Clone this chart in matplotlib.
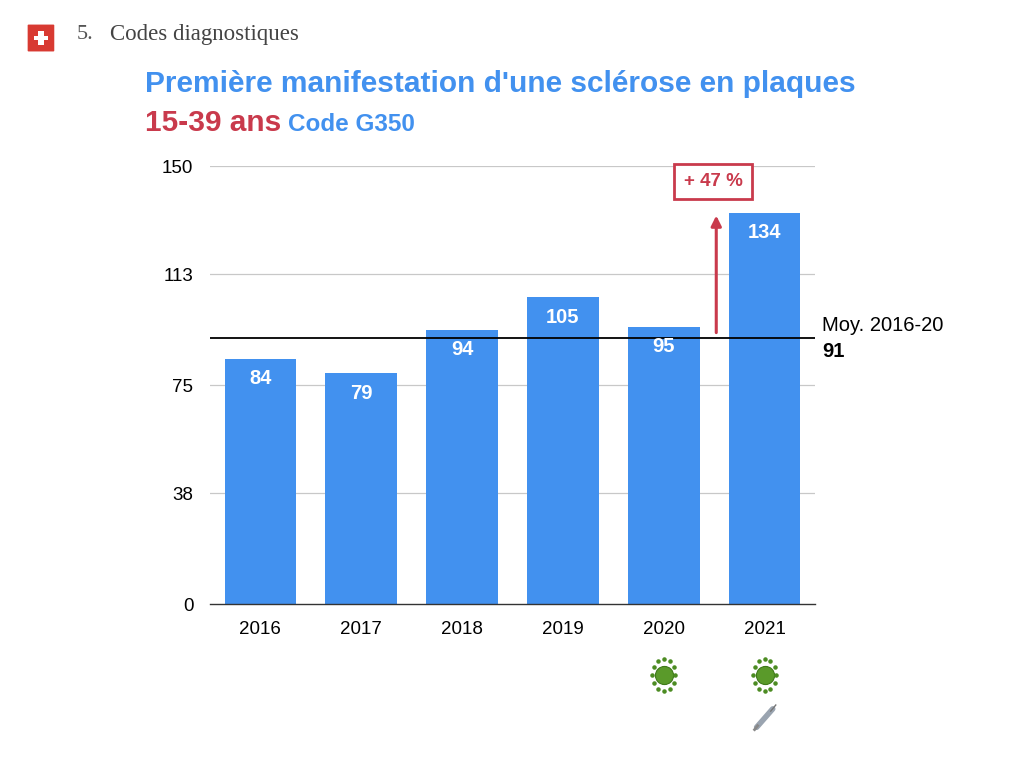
import matplotlib.pyplot as plt
import matplotlib.transforms as mtransforms
from matplotlib.patches import Rectangle, FancyBboxPatch
import numpy as np

years = ['2016', '2017', '2018', '2019', '2020', '2021']
cases = [84, 79, 94, 105, 95, 134]
mean_value = 91
ticks = [0, 38, 75, 113, 150]
increase_label = '+ 47 %'
virus_years = ['2020', '2021']
vaccine_years = ['2021']

BLUE = '#4291ef'
RED = '#c93a4c'

plt.rcParams['font.family'] = ['Liberation Sans', 'DejaVu Sans']

fig = plt.figure(figsize=(10.24, 7.68), dpi=100)
ax = fig.add_axes([0.205, 0.2135, 0.591, 0.5703])

x = np.arange(len(years))
ax.bar(x, cases, width=0.71, color=BLUE, zorder=2)
for xi, v in zip(x, cases):
    ax.text(xi, v - 3.5, str(v), color='white', fontsize=14.5, fontweight='bold',
            ha='center', va='top', zorder=4)

ax.set_xlim(-0.5, len(years) - 0.5)
ax.set_ylim(0, 150)
ax.set_yticks(ticks)
ax.set_yticklabels([str(t) for t in ticks], fontsize=13.5)
ax.set_xticks(x)
ax.set_xticklabels(years, fontsize=13.5)
ax.tick_params(length=0)
ax.tick_params(axis='x', pad=12)
ax.tick_params(axis='y', pad=12)
for t in ticks[1:]:
    ax.axhline(t, color='#c8c8c8', lw=0.9, zorder=1)
for s in ['top', 'right', 'left']:
    ax.spines[s].set_visible(False)
ax.spines['bottom'].set_color('#333333')
ax.spines['bottom'].set_linewidth(1.0)

# average line
ax.axhline(mean_value, color='black', lw=1.3, zorder=3)
ax.text(1.012, mean_value + 1.2, 'Moy. 2016-20', transform=ax.get_yaxis_transform(),
        fontsize=14.5, va='bottom', ha='left', clip_on=False)
ax.text(1.012, mean_value - 1.2, str(mean_value), transform=ax.get_yaxis_transform(),
        fontsize=14.5, fontweight='bold', va='top', ha='left', clip_on=False)

# increase arrow
ax.annotate('', xy=(4.52, cases[-1]), xytext=(4.52, mean_value + 1),
            arrowprops=dict(arrowstyle='-|>', color=RED, lw=2.2, mutation_scale=15),
            zorder=5)
ax.text(4.49, 144.7, increase_label, color=RED, fontsize=13.5, fontweight='bold',
        ha='center', va='center', zorder=5,
        bbox=dict(boxstyle='square,pad=0.5', fc='white', ec=RED, lw=2))

# titles
fig.text(0.1415, 0.891, "Première manifestation d'une sclérose en plaques",
         color=BLUE, fontsize=21.5, fontweight='bold', va='center')
t1 = fig.text(0.1415, 0.840, '15-39 ans', color=RED, fontsize=21.5,
              fontweight='bold', va='center')
fig.canvas.draw()
bb = t1.get_window_extent()
fig.text(bb.x1 / fig.bbox.width + 0.007, 0.838, 'Code G350', color=BLUE,
         fontsize=17.5, fontweight='bold', va='center')

# header
fig.text(0.075, 0.955, '5.', fontsize=16, color='#555555',
         family='Liberation Serif', va='center')
fig.text(0.107, 0.955, 'Codes diagnostiques', fontsize=16.5, color='#444444',
         family='Liberation Serif', va='center')
flag = FancyBboxPatch((0.028, 0.934), 0.024, 0.033, boxstyle='round,pad=0.001',
                      transform=fig.transFigure, fc='#d83a32', ec='none')
fig.patches.append(flag)
fig.patches.append(Rectangle((0.0375, 0.941), 0.005, 0.019, transform=fig.transFigure,
                             fc='white', ec='none'))
fig.patches.append(Rectangle((0.0335, 0.948), 0.013, 0.0055, transform=fig.transFigure,
                             fc='white', ec='none'))

# virus / vaccine icons under the years
trans = mtransforms.blended_transform_factory(ax.transData, fig.transFigure)
for yr in virus_years:
    xi = years.index(yr)
    ax.scatter([xi], [0.121], transform=trans, s=170, color='#5a9a2a',
               edgecolor='#3f7a1a', lw=0.8, clip_on=False, zorder=5)
    ang = np.linspace(0, 2 * np.pi, 12, endpoint=False)
    ax.scatter(xi + 0.115 * np.cos(ang), 0.121 + 0.0205 * np.sin(ang), transform=trans,
               s=5, color='#4c8c22', clip_on=False, zorder=5)
for yr in vaccine_years:
    xi = years.index(yr)
    ax.plot([xi - 0.08, xi + 0.08], [0.053, 0.077], transform=trans, color='#9aa4b0',
            lw=4, solid_capstyle='round', clip_on=False)
    ax.plot([xi + 0.06, xi + 0.11], [0.074, 0.082], transform=trans, color='#777777',
            lw=1, clip_on=False)
    ax.plot([xi - 0.1, xi - 0.07], [0.05, 0.055], transform=trans, color='#888888',
            lw=2, clip_on=False)

fig.savefig('out.png', dpi=100)
